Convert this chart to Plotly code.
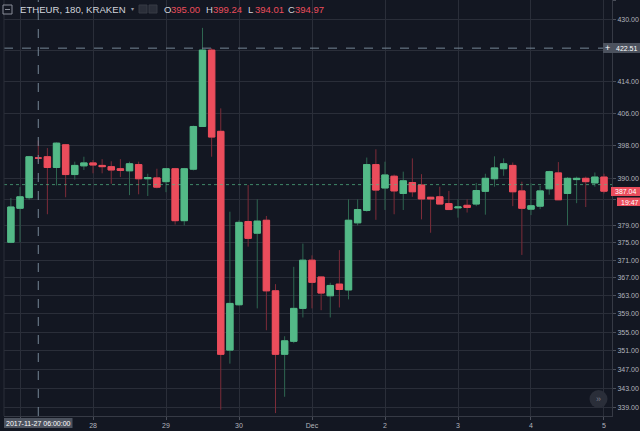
import math
import pandas as pd
import plotly.graph_objects as go

# ---------------- data (ETHEUR, 3h candles, Kraken) ----------------
times = pd.date_range("2017-11-26 21:00", periods=66, freq="3h")

opens = [375.1, 383.0, 385.5, 395.00, 395.3, 392.7, 398.2, 391.0, 393.1, 393.8,
         393.2, 392.9, 392.4, 391.9, 393.4, 390.0, 390.2, 389.3, 392.4, 380.1,
         392.3, 402.7, 422.0, 401.5, 351.1, 361.0, 379.9, 377.2, 380.2, 364.1,
         350.2, 353.0, 360.2, 371.0, 367.2, 363.0, 365.6, 364.3, 379.6, 382.5,
         393.4, 387.8, 390.6, 386.5, 389.1, 388.5, 385.6, 385.7, 384.1, 383.1,
         383.7, 384.0, 387.0, 390.0, 392.4, 393.2, 387.1, 382.8, 383.5, 387.6,
         391.4, 386.5, 389.8, 390.1, 389.0, 390.4]
highs = [385.4, 388.0, 395.5, 399.24, 397.4, 398.8, 398.4, 394.1, 395.3, 394.5,
         394.7, 394.2, 394.7, 394.1, 394.1, 391.2, 392.4, 392.5, 392.6, 392.6,
         402.9, 427.8, 422.5, 407.2, 382.2, 380.2, 388.5, 385.1, 381.2, 365.6,
         354.1, 369.5, 374.8, 372.1, 367.3, 365.9, 373.3, 385.1, 385.1, 395.1,
         397.1, 394.1, 391.0, 391.7, 394.9, 391.1, 385.7, 388.1, 387.1, 385.1,
         385.1, 389.0, 391.2, 395.4, 394.9, 393.9, 389.3, 388.9, 388.3, 391.9,
         394.0, 390.4, 390.5, 390.5, 391.5, 391.2]
lows = [374.9, 375.1, 385.0, 394.01, 381.6, 388.4, 385.6, 389.8, 392.1, 391.3,
        391.3, 388.8, 390.4, 386.1, 386.3, 385.9, 387.7, 386.8, 379.2, 379.0,
        392.0, 402.6, 395.3, 338.5, 348.2, 360.8, 374.1, 360.2, 355.4, 337.8,
        341.2, 352.6, 358.2, 360.2, 359.8, 358.2, 360.4, 362.2, 379.0, 382.2,
        380.3, 382.6, 381.6, 382.6, 385.7, 380.4, 377.3, 384.0, 382.6, 380.8,
        382.0, 383.5, 381.5, 388.1, 390.7, 383.5, 372.2, 381.4, 382.8, 386.2,
        385.0, 379.0, 384.2, 383.3, 388.1, 386.5]
closes = [383.3, 385.7, 395.3, 394.97, 392.7, 398.6, 391.0, 393.2, 393.8, 393.3,
          392.9, 392.1, 392.0, 393.6, 390.0, 390.3, 388.0, 392.4, 380.1, 392.4,
          402.7, 422.0, 400.1, 350.2, 361.3, 379.7, 376.0, 380.0, 364.1, 350.2,
          353.1, 360.2, 371.0, 366.0, 363.6, 365.3, 364.4, 380.2, 382.7, 393.4,
          387.3, 390.9, 387.1, 389.5, 386.9, 385.2, 385.2, 384.0, 382.7, 383.3,
          383.2, 387.2, 390.1, 392.6, 393.6, 386.9, 383.0, 383.6, 387.1, 391.7,
          385.0, 390.1, 390.1, 389.3, 390.4, 387.04]

ytick_vals = [339, 343, 347, 351, 355, 359, 363, 367, 371, 375, 379, 385, 390,
              398, 406, 414, 422, 430, 435]
ytick_text = ["339.00", "343.00", "347.00", "351.00", "355.00", "359.00", "363.00",
              "367.00", "371.00", "375.00", "379.00", "", "390.00", "398.00",
              "406.00", "414.00", "", "430.00", "435.00"]
xtick_vals = ["2017-11-27", "2017-11-28", "2017-11-29", "2017-11-30", "2017-12-01",
              "2017-12-02", "2017-12-03", "2017-12-04", "2017-12-05"]
# "27" is hidden under the crosshair time label in the reference
xtick_text = ["", "28", "29", "30", "Dec", "2", "3", "4", "5"]

crosshair_time = "2017-11-27 06:00"
crosshair_price = 422.51
last_price = 387.04
price_line = 388.6
countdown = "19:47"
title_text = "ETHEUR, 180, KRAKEN"
ohlc_text = [("O", "395.00"), ("H", "399.24"), ("L", "394.01"), ("C", "394.97")]

# ---------------- styling ----------------
BG = "#131722"
GRID = "#2a2e39"
UP = "#53b987"
DOWN = "#eb4d5c"
UP_WICK = "#2e6650"
DOWN_WICK = "#7d2c39"
TXT = "#b2b5be"
FONT = "Liberation Sans"

W, H = 640, 431
ML, MR, MT, MB = 4, 28, 0, 15
PW, PH = W - ML - MR, H - MT - MB


def px(x):
    return (x - ML) / PW


def py(y):
    return 1 - (y - MT) / PH


body_hi = [max(o, c) for o, c in zip(opens, closes)]
body_lo = [min(o, c) for o, c in zip(opens, closes)]

fig = go.Figure()
# wicks
fig.add_trace(go.Candlestick(
    x=times, open=opens, high=highs, low=lows, close=closes,
    increasing=dict(line=dict(color=UP_WICK, width=1), fillcolor=UP_WICK),
    decreasing=dict(line=dict(color=DOWN_WICK, width=1), fillcolor=DOWN_WICK),
    whiskerwidth=0, hoverinfo="skip", showlegend=False))
# bodies
fig.add_trace(go.Candlestick(
    x=times, open=opens, high=body_hi, low=body_lo, close=closes,
    increasing=dict(line=dict(color=UP, width=1), fillcolor=UP),
    decreasing=dict(line=dict(color=DOWN, width=1), fillcolor=DOWN),
    whiskerwidth=0, hoverinfo="skip", showlegend=False))

y_lo, y_hi = 337.2, 435.17

shapes = []
# last price dotted line
shapes.append(dict(type="line", xref="paper", yref="y", x0=0, x1=1,
                   y0=price_line, y1=price_line,
                   line=dict(color=UP, width=1, dash="dot"), opacity=0.7))
# crosshair
shapes.append(dict(type="line", xref="x", yref="paper", x0=crosshair_time, x1=crosshair_time,
                   y0=0, y1=1, line=dict(color="#758696", width=1, dash="dash")))
shapes.append(dict(type="line", xref="paper", yref="y", x0=0, x1=1,
                   y0=crosshair_price, y1=crosshair_price,
                   line=dict(color="#758696", width=1, dash="dash")))
# left pane border
shapes.append(dict(type="line", xref="paper", yref="paper", x0=0, x1=0, y0=0, y1=1,
                   line=dict(color="#2a2e39", width=1)))
# crosshair price label box
shapes.append(dict(type="rect", xref="paper", yref="paper",
                   x0=px(603), x1=px(640), y0=py(53), y1=py(43),
                   fillcolor="#4c525e", line=dict(width=0), layer="above"))
# last price label
shapes.append(dict(type="rect", xref="paper", yref="paper",
                   x0=px(611), x1=px(640), y0=py(196), y1=py(187),
                   fillcolor=DOWN, line=dict(width=0), layer="above"))
shapes.append(dict(type="rect", xref="paper", yref="paper",
                   x0=px(617), x1=px(640), y0=py(206), y1=py(197.5),
                   fillcolor=DOWN, line=dict(width=0), layer="above"))
# time label box
shapes.append(dict(type="rect", xref="paper", yref="paper",
                   x0=px(4), x1=px(72.5), y0=py(428), y1=py(418),
                   fillcolor="#4c525e", line=dict(width=0), layer="above"))
# scroll button
shapes.append(dict(type="circle", xref="paper", yref="paper",
                   x0=px(589.5), x1=px(607.5), y0=py(408), y1=py(390),
                   fillcolor="#2a2e39", line=dict(width=0), layer="above"))
# header icons
shapes.append(dict(type="rect", xref="paper", yref="paper",
                   x0=px(3), x1=px(12), y0=py(14), y1=py(5),
                   line=dict(color="#8a8e99", width=1), fillcolor=BG, layer="above"))
shapes.append(dict(type="line", xref="paper", yref="paper",
                   x0=px(5), x1=px(10), y0=py(9.5), y1=py(9.5),
                   line=dict(color="#8a8e99", width=1), layer="above"))
for x0 in (139, 149):
    shapes.append(dict(type="rect", xref="paper", yref="paper",
                       x0=px(x0), x1=px(x0 + 8), y0=py(13), y1=py(5),
                       fillcolor="#2a2e39", line=dict(color="#363a45", width=1),
                       layer="above"))

annotations = []


def ann(x, y, text, color=TXT, size=7, anchor="left", bg=None):
    d = dict(xref="paper", yref="paper", x=px(x), y=py(y), text=text,
             showarrow=False, xanchor=anchor, yanchor="middle",
             font=dict(family=FONT, size=size, color=color))
    if bg:
        d["bgcolor"] = bg
    annotations.append(d)


ann(18, 9, title_text, color="#d1d4dc", size=9.6)
ann(129, 9, "▾", color="#9598a1", size=6)
ohlc_x = [162, 203.5, 246, 286]
for (lab, val), x in zip(ohlc_text, ohlc_x):
    ann(x, 9, lab, color="#d1d4dc", size=9.5)
    ann(x + 7, 9, val, color=DOWN, size=9.5)

ann(607.5, 48, "+", color="#ffffff", size=9, anchor="center")
ann(614, 48, "422.51", color="#ffffff", size=7)
ann(613, 191.5, f"{last_price:.2f}", color="#ffffff", size=7)
ann(619, 202, countdown, color="#ffffff", size=7)
ann(38.3, 423, "2017-11-27 06:00:00", color="#ffffff", size=7, anchor="center")
ann(598.5, 399, "»", color="#787b86", size=9, anchor="center")

fig.update_layout(
    width=W, height=H,
    margin=dict(l=ML, r=MR, t=MT, b=MB, pad=0, autoexpand=False),
    paper_bgcolor=BG, plot_bgcolor=BG,
    boxgap=0.3, boxgroupgap=0.0, boxmode="overlay",
    showlegend=False, hovermode=False,
    shapes=shapes, annotations=annotations,
    font=dict(family=FONT, size=7, color=TXT),
    xaxis=dict(
        type="date", range=["2017-11-26 18:44", "2017-12-05 02:38"],
        rangeslider=dict(visible=False),
        tickvals=xtick_vals, ticktext=xtick_text,
        showgrid=True, gridcolor=GRID, gridwidth=1,
        showline=True, linecolor="#363a45", linewidth=1, mirror=False,
        ticks="outside", ticklen=3, tickcolor="#4a4e59",
        tickfont=dict(family=FONT, size=7, color=TXT),
        zeroline=False, fixedrange=True, automargin=False,
    ),
    yaxis=dict(
        type="log", side="right",
        range=[math.log10(y_lo), math.log10(y_hi)],
        tickvals=ytick_vals, ticktext=ytick_text,
        showgrid=True, gridcolor=GRID, gridwidth=1,
        showline=True, linecolor="#363a45", linewidth=1,
        ticks="outside", ticklen=3, tickcolor="#4a4e59",
        tickfont=dict(family=FONT, size=7, color=TXT),
        zeroline=False, fixedrange=True, automargin=False,
    ),
)

fig.write_html(
    "out.html",
    config={"displayModeBar": False},
    post_script="document.body.style.margin='0px';document.body.style.overflow='hidden';",
)
